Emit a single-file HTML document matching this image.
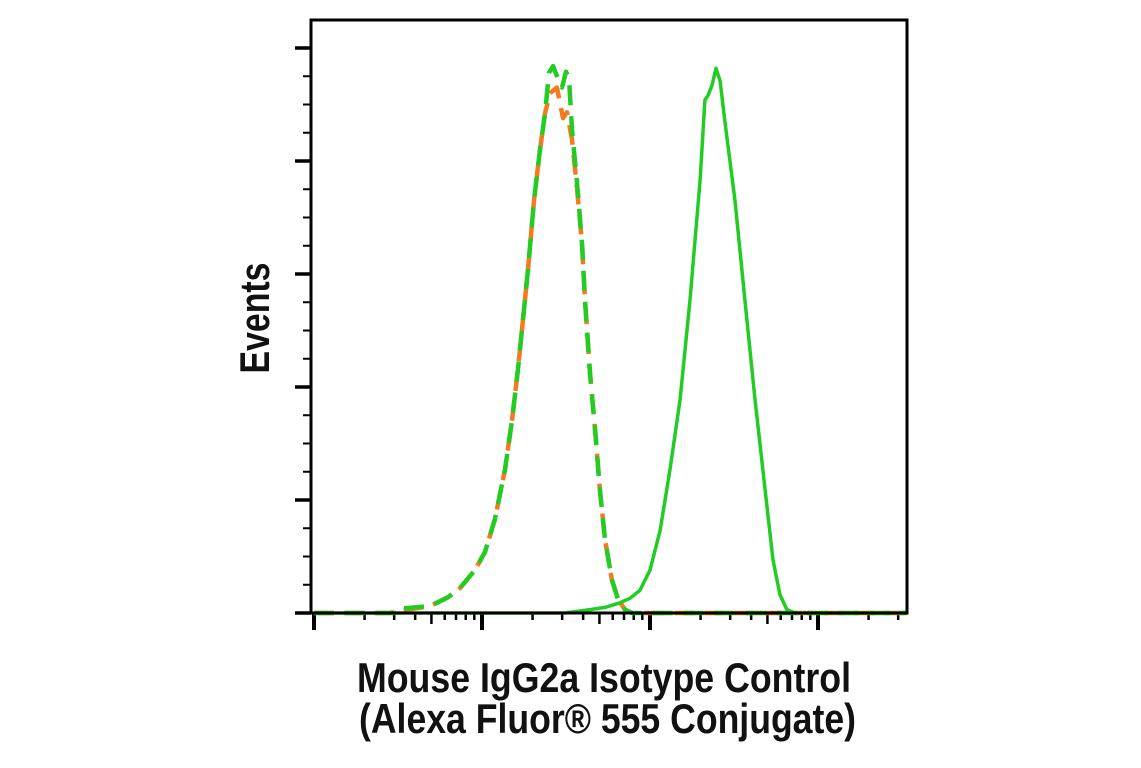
<!DOCTYPE html>
<html><head><meta charset="utf-8"><style>
html,body{margin:0;padding:0;background:#fff;}
svg{display:block;}
text{font-family:"Liberation Sans Narrow","Liberation Sans",sans-serif;font-weight:bold;fill:#111;}
</style></head><body>
<svg id="chart" width="1141" height="768" xmlns="http://www.w3.org/2000/svg">
<g id="ticks"></g>
<g id="series"></g>
<rect x="311" y="20" width="596" height="593" fill="none" stroke="#000" stroke-width="3"/>
<text x="0" y="0" font-size="42" text-anchor="middle" textLength="111" lengthAdjust="spacingAndGlyphs" transform="translate(269,318) rotate(-90)">Events</text>
<text x="357" y="692" font-size="42" textLength="494" lengthAdjust="spacingAndGlyphs">Mouse IgG2a Isotype Control</text>
<text x="359" y="733" font-size="42" textLength="497" lengthAdjust="spacingAndGlyphs">(Alexa Fluor® 555 Conjugate)</text>
</svg>
<script>
// decades (log10 units from left axis origin) and counts (relative units)
const solidX = [0,1.494,1.643,1.732,1.821,1.881,1.940,2.000,2.060,2.119,2.179,2.238,2.298,2.327,2.345,2.369,2.393,2.417,2.446,2.506,2.565,2.625,2.685,2.732,2.774,2.815,2.863,3.53];
const solidY = [0,0,0.03,0.05,0.09,0.13,0.20,0.38,0.73,1.27,1.89,2.77,3.83,4.54,4.58,4.67,4.82,4.71,4.35,3.65,2.77,1.89,1.09,0.47,0.16,0.03,0,0];
const isoX = [0,0.45,0.512,0.690,0.798,0.869,0.958,1.018,1.077,1.137,1.179,1.214,1.238,1.274,1.310,1.345,1.375,1.405,1.446,1.482,1.506,1.536,1.565,1.595,1.613,1.643,1.673,1.702,1.732,1.774,1.810,1.851,1.893,3.53];
const isoY = [0,0,0.02,0.06,0.14,0.22,0.38,0.54,0.83,1.27,1.71,2.16,2.51,3.04,3.66,4.10,4.42,4.60,4.65,4.38,4.43,4.19,3.77,3.27,2.77,2.12,1.62,1.09,0.65,0.29,0.12,0.03,0,0];
const dashGX = [0,0.5,0.512,0.690,0.798,0.869,0.958,1.018,1.077,1.137,1.179,1.214,1.238,1.274,1.310,1.345,1.375,1.399,1.423,1.452,1.476,1.500,1.518,1.536,1.571,1.595,1.613,1.643,1.673,1.702,1.732,1.774,1.810,1.851,1.893,3.53];
const dashGY = [0,0,0.04,0.06,0.14,0.22,0.38,0.54,0.83,1.27,1.71,2.16,2.51,3.04,3.66,4.10,4.42,4.78,4.84,4.73,4.65,4.79,4.73,4.28,3.72,3.27,2.77,2.12,1.62,1.09,0.65,0.29,0.12,0.03,0,0];
const yMajor = [0,1,2,3,4,5];
const xDecades = [0,1,2,3];

const X0=314, DEC=168, Y0=613, UNIT=113;
function sx(d){return X0+d*DEC;}
function sy(c){return Y0-c*UNIT;}
const NS="http://www.w3.org/2000/svg";
const tg=document.getElementById('ticks'), sg=document.getElementById('series');
function line(x1,y1,x2,y2,w){const l=document.createElementNS(NS,'line');l.setAttribute('x1',x1);l.setAttribute('y1',y1);l.setAttribute('x2',x2);l.setAttribute('y2',y2);l.setAttribute('stroke','#000');l.setAttribute('stroke-width',w);tg.appendChild(l);return l;}
yMajor.forEach(v=>{
  const l=line(295,sy(v),311,sy(v),3.5);
  
  
  if(v<5){for(let k=1;k<4;k++){const m=line(303,sy(v+k/4),311,sy(v+k/4),2);
    
    }}
});
xDecades.forEach(d=>{
  const l=line(sx(d),613,sx(d),630,4);
  
  
  for(let k=2;k<10;k++){const x=sx(d+Math.log10(k));if(x>906)break;
    const m=line(x,613,x,(k==5?624:620),2.5);
    
    }
});
function path(xs,ys,color,dash,w,name){
  const p=document.createElementNS(NS,'path');
  p.setAttribute('d',xs.map((x,i)=>(i?'L':'M')+sx(x).toFixed(1)+','+sy(ys[i]).toFixed(1)).join(''));
  p.setAttribute('fill','none');p.setAttribute('stroke',color);p.setAttribute('stroke-width',w);
  p.setAttribute('stroke-linejoin','round');
  if(dash)p.setAttribute('stroke-dasharray',dash);
  
  
  sg.appendChild(p);
}
path(isoX,isoY,'#f47a20','20 10','4.5','isotype-orange-dashed-line');
path(dashGX,dashGY,'#22cc22','20 11','4.5','isotype-green-dashed-line');
path(solidX,solidY,'#22cc22',null,'3.5','stained-green-solid-line');
</script>
</body></html>
